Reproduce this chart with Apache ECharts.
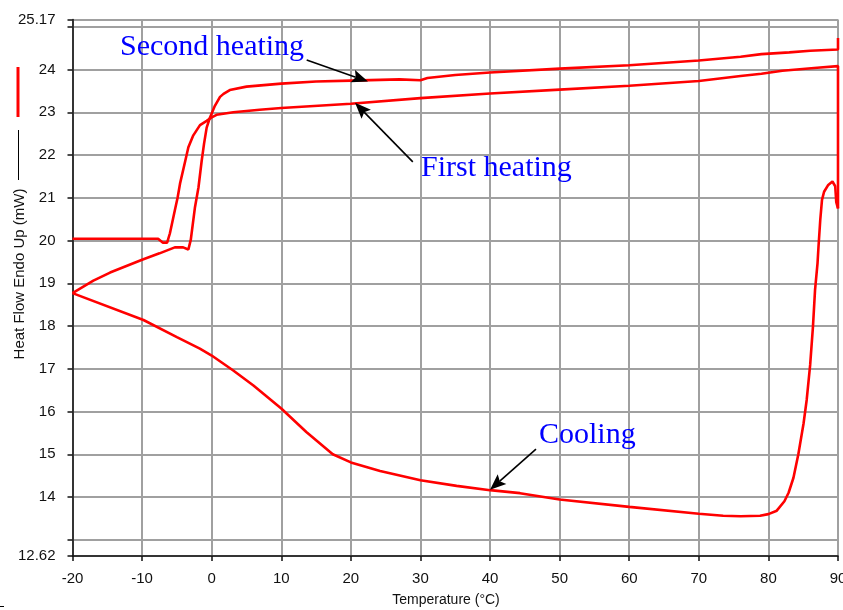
<!DOCTYPE html>
<html>
<head>
<meta charset="utf-8">
<script src="https://cdn.jsdelivr.net/npm/echarts@6/dist/echarts.min.js"></script>
<style>
  html, body { margin: 0; padding: 0; background: #ffffff; }
  #chart { width: 843px; height: 610px; }
</style>
</head>
<body>
<div id="chart"></div>
<script>
// DSC trace: heat flow (mW) against temperature (°C)

// First heating run
const firstHeatingT  = [-20, -14, -7.7, -7.0, -6.4, -6.0, -5.3, -4.9, -4.55, -3.8, -3.35, -2.64, -1.68, -0.72, 0, 0.7, 3.1, 6.9, 10, 20, 30, 40, 50, 60, 70, 76, 79, 82, 87, 90, 90];
const firstHeatingMW = [20.04, 20.04, 20.04, 19.95, 19.95, 20.17, 20.7, 21.0, 21.33, 21.86, 22.18, 22.46, 22.7, 22.8, 22.88, 22.94, 23.0, 23.06, 23.1, 23.2, 23.33, 23.44, 23.53, 23.62, 23.73, 23.85, 23.9, 23.97, 24.04, 24.08, 20.75];

// Cooling run, from 90 °C down to -20 °C
const coolingT  = [90, 89.75, 89.6, 89.2, 88.6, 88.0, 87.7, 87.45, 87.2, 87.06, 86.7, 86.4, 86.0, 85.5, 85.05, 84.3, 83.6, 82.9, 82.3, 81.2, 80, 78.8, 76, 73.5, 70, 60, 50, 44.3, 40, 35.2, 30, 24.2, 20, 17.4, 13.6, 10, 6, 3.1, 0, -1.7, -5, -9.8, -20];
const coolingMW = [20.75, 20.9, 21.27, 21.38, 21.3, 21.14, 20.95, 20.48, 19.86, 19.47, 18.84, 17.98, 17.09, 16.27, 15.72, 15.0, 14.45, 14.1, 13.9, 13.68, 13.6, 13.56, 13.55, 13.56, 13.61, 13.77, 13.94, 14.09, 14.16, 14.26, 14.39, 14.61, 14.81, 15.0, 15.52, 16.07, 16.61, 16.96, 17.31, 17.47, 17.74, 18.14, 18.77];

// Second heating run
const secondHeatingT  = [-20, -17, -14.6, -10, -7.5, -5.3, -4.1, -3.35, -3.0, -2.4, -1.9, -1.44, -1.1, -0.72, -0.24, 0.46, 1.2, 1.7, 2.6, 5, 10, 15, 20, 27, 30, 31, 35, 40, 50, 60, 70, 76, 79, 83, 86, 90, 90];
const secondHeatingMW = [18.77, 19.06, 19.25, 19.55, 19.7, 19.84, 19.84, 19.79, 20.02, 20.78, 21.24, 21.86, 22.26, 22.64, 22.88, 23.15, 23.36, 23.43, 23.52, 23.6, 23.67, 23.72, 23.74, 23.77, 23.75, 23.8, 23.87, 23.93, 24.02, 24.1, 24.21, 24.3, 24.36, 24.4, 24.44, 24.47, 24.74];

// Axis ranges and tick labels
const tempMin = -20, tempMax = 90, tempStep = 10;
const flowMin = 12.62, flowMax = 25.17;
const hiddenFlowLabels = [13, 25];

// Annotation arrows: [tail, head] in data units
const arrowSecond  = [[13.65, 24.22], [22.46, 23.72]];
const arrowFirst   = [[28.9, 21.84], [20.6, 23.22]];
const arrowCooling = [[46.6, 15.12], [40.0, 14.17]];

const zip = (xs, ys) => xs.map((x, i) => [x, ys[i]]);

const chart = echarts.init(document.getElementById('chart'), null, { renderer: 'canvas' });

const red = '#ff0000';
const gridGray = '#a0a0a0';
const tickFont = { fontFamily: 'Liberation Sans, Arial, sans-serif', fontSize: 15, color: '#111' };
const noteFont = 'Liberation Serif, Times New Roman, serif';

const lineSeries = (name, data) => ({
  name: name,
  type: 'line',
  data: data,
  showSymbol: false,
  symbol: 'none',
  lineStyle: { color: red, width: 2.6 },
  itemStyle: { color: red },
  animation: false,
  z: 3
});

const staticGraphics = [
  // legend swatches beside the axis title
  { type: 'line', shape: { x1: 18, y1: 67, x2: 18, y2: 117 }, style: { stroke: red, lineWidth: 3 } },
  { type: 'line', shape: { x1: 18.5, y1: 130, x2: 18.5, y2: 180 }, style: { stroke: '#000', lineWidth: 1 } },
  { type: 'line', shape: { x1: 0, y1: 606.5, x2: 4, y2: 606.5 }, style: { stroke: '#000', lineWidth: 1 } },
  {
    type: 'text', x: 20, y: 274, rotation: Math.PI / 2,
    style: { text: 'Heat Flow Endo Up (mW)', fill: '#111', font: '15px Liberation Sans, Arial, sans-serif', align: 'center', verticalAlign: 'middle' }
  },
  {
    type: 'text', x: 446, y: 600,
    style: { text: 'Temperature (°C)', fill: '#111', font: '14px Liberation Sans, Arial, sans-serif', align: 'center', verticalAlign: 'middle' }
  },
  {
    type: 'text', x: 120, y: 47,
    style: { text: 'Second heating', fill: '#0000ff', font: '30px ' + noteFont, align: 'left', verticalAlign: 'middle' }
  },
  {
    type: 'text', x: 421, y: 168,
    style: { text: 'First heating', fill: '#0000ff', font: '30px ' + noteFont, align: 'left', verticalAlign: 'middle' }
  },
  {
    type: 'text', x: 539, y: 435,
    style: { text: 'Cooling', fill: '#0000ff', font: '30px ' + noteFont, align: 'left', verticalAlign: 'middle' }
  }
];

chart.setOption({
  animation: false,
  backgroundColor: '#ffffff',
  grid: { left: 72.5, top: 19.5, width: 765.5, height: 536.5, outerBoundsMode: 'none', containLabel: false },
  xAxis: {
    type: 'value',
    min: tempMin, max: tempMax, interval: tempStep,
    axisLine: { show: true, onZero: false, lineStyle: { color: '#111', width: 1.5 } },
    axisTick: { show: true, inside: false, length: 5, lineStyle: { color: '#111', width: 1.5 } },
    axisLabel: Object.assign({ margin: 15, showMinLabel: true, showMaxLabel: true }, tickFont),
    splitLine: { show: true, lineStyle: { color: gridGray, width: 2 } }
  },
  yAxis: {
    type: 'value',
    min: flowMin, max: flowMax, splitNumber: 12,
    axisLine: { show: true, onZero: false, lineStyle: { color: '#111', width: 1.5 } },
    axisTick: { show: true, inside: false, length: 5, lineStyle: { color: '#111', width: 1.5 } },
    axisLabel: Object.assign({
      margin: 17,
      showMinLabel: true, showMaxLabel: true,
      formatter: v => hiddenFlowLabels.indexOf(Math.round(v * 100) / 100) >= 0 ? '' : String(v)
    }, tickFont),
    splitLine: { show: true, lineStyle: { color: gridGray, width: 2 } }
  },
  series: [
    lineSeries('First heating', zip(firstHeatingT, firstHeatingMW)),
    lineSeries('Cooling', zip(coolingT, coolingMW)),
    lineSeries('Second heating', zip(secondHeatingT, secondHeatingMW))
  ],
  graphic: staticGraphics
});

// Pointer arrows: shaft plus filled head whose tip sits on the data point
function arrowGraphics(a) {
  const p0 = chart.convertToPixel({ gridIndex: 0 }, a[0]);
  const p1 = chart.convertToPixel({ gridIndex: 0 }, a[1]);
  const dx = p1[0] - p0[0], dy = p1[1] - p0[1];
  const len = Math.sqrt(dx * dx + dy * dy);
  const ux = dx / len, uy = dy / len;
  const nx = -uy, ny = ux;
  const headLen = 16, headHalf = 6.5, notch = 13;
  const base = [p1[0] - ux * headLen, p1[1] - uy * headLen];
  const back = [p1[0] - ux * notch, p1[1] - uy * notch];
  return [
    { type: 'line', z: 10, shape: { x1: p0[0], y1: p0[1], x2: back[0], y2: back[1] }, style: { stroke: '#000', lineWidth: 1.6 } },
    {
      type: 'polygon', z: 10,
      shape: { points: [p1, [base[0] + nx * headHalf, base[1] + ny * headHalf], back, [base[0] - nx * headHalf, base[1] - ny * headHalf]] },
      style: { fill: '#000' }
    }
  ];
}

chart.setOption({
  graphic: staticGraphics.concat(
    arrowGraphics(arrowSecond),
    arrowGraphics(arrowFirst),
    arrowGraphics(arrowCooling)
  )
}, { replaceMerge: ['graphic'] });
</script>
</body>
</html>
